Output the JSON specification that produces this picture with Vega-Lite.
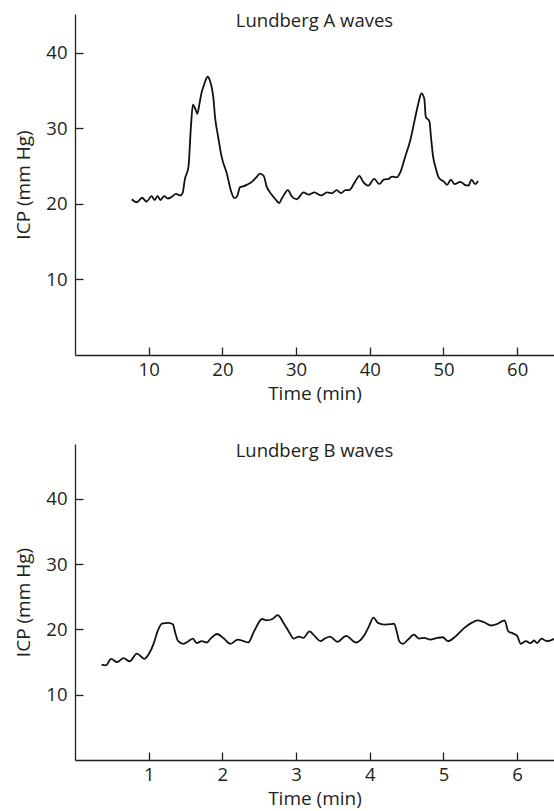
{
  "$schema": "https://vega.github.io/schema/vega-lite/v6.json",
  "padding": {"left": 14, "top": 11, "right": 0, "bottom": 4},
  "spacing": 37,
  "background": "white",
  "config": {
    "view": {"stroke": null},
    "font": "Open Sans",
    "axis": {
      "grid": false,
      "domainColor": "#231f20",
      "domainWidth": 1.3,
      "tickColor": "#231f20",
      "tickWidth": 1.3,
      "tickSize": -8,
      "labelFont": "Open Sans",
      "labelFontSize": 18.5,
      "labelColor": "#231f20",
      "titleFont": "Open Sans",
      "titleFontSize": 19,
      "titleFontWeight": "normal",
      "titleColor": "#231f20"
    },
    "axisX": {"labelPadding": 13, "titlePadding": 6},
    "axisY": {"labelPadding": 16, "titlePadding": 12},
    "title": {"font": "Open Sans", "fontSize": 18.5, "fontWeight": "normal", "color": "#231f20", "anchor": "middle", "frame": "group", "baseline": "alphabetic"}
  },
  "vconcat": [
    {
      "width": 479,
      "height": 341,
      "title": {"text": "Lundberg A waves", "offset": -16},
      "data": {"values": [
        {"t": 7.7, "icp": 20.6}, {"t": 8.4, "icp": 20.2}, {"t": 9.1, "icp": 20.8}, {"t": 9.7, "icp": 20.3},
        {"t": 10.4, "icp": 21.0}, {"t": 10.8, "icp": 20.5}, {"t": 11.2, "icp": 21.0}, {"t": 11.6, "icp": 20.5},
        {"t": 12.1, "icp": 21.0}, {"t": 12.6, "icp": 20.7}, {"t": 13.1, "icp": 20.9}, {"t": 13.7, "icp": 21.3},
        {"t": 14.3, "icp": 21.1}, {"t": 14.6, "icp": 21.4}, {"t": 14.9, "icp": 23.2}, {"t": 15.4, "icp": 24.9},
        {"t": 15.7, "icp": 29.7}, {"t": 16.0, "icp": 33.1}, {"t": 16.3, "icp": 32.6}, {"t": 16.6, "icp": 31.9},
        {"t": 16.9, "icp": 33.3}, {"t": 17.2, "icp": 34.8}, {"t": 17.5, "icp": 35.7}, {"t": 18.0, "icp": 36.8},
        {"t": 18.3, "icp": 36.3}, {"t": 18.8, "icp": 33.8}, {"t": 19.0, "icp": 31.5}, {"t": 19.4, "icp": 29.0},
        {"t": 19.9, "icp": 26.2}, {"t": 20.6, "icp": 24.0}, {"t": 21.2, "icp": 21.6}, {"t": 21.6, "icp": 20.75},
        {"t": 22.0, "icp": 21.0}, {"t": 22.4, "icp": 22.2}, {"t": 22.8, "icp": 22.3}, {"t": 23.3, "icp": 22.5},
        {"t": 24.0, "icp": 22.9}, {"t": 24.7, "icp": 23.6}, {"t": 25.1, "icp": 24.0}, {"t": 25.6, "icp": 23.7},
        {"t": 26.0, "icp": 22.3}, {"t": 26.7, "icp": 21.2}, {"t": 27.2, "icp": 20.6}, {"t": 27.7, "icp": 20.1},
        {"t": 28.1, "icp": 20.75}, {"t": 28.9, "icp": 21.8}, {"t": 29.4, "icp": 21.0}, {"t": 30.1, "icp": 20.6},
        {"t": 31.0, "icp": 21.5}, {"t": 31.7, "icp": 21.2}, {"t": 32.5, "icp": 21.5}, {"t": 33.4, "icp": 21.1},
        {"t": 34.2, "icp": 21.5}, {"t": 34.9, "icp": 21.4}, {"t": 35.5, "icp": 21.8}, {"t": 36.1, "icp": 21.4},
        {"t": 36.7, "icp": 21.8}, {"t": 37.2, "icp": 21.8}, {"t": 38.0, "icp": 22.9}, {"t": 38.6, "icp": 23.7},
        {"t": 39.1, "icp": 22.9}, {"t": 39.8, "icp": 22.4}, {"t": 40.6, "icp": 23.3}, {"t": 41.3, "icp": 22.6},
        {"t": 41.9, "icp": 23.2}, {"t": 42.6, "icp": 23.3}, {"t": 43.0, "icp": 23.6}, {"t": 43.6, "icp": 23.5},
        {"t": 44.2, "icp": 24.3}, {"t": 44.8, "icp": 26.2}, {"t": 45.5, "icp": 28.4}, {"t": 46.1, "icp": 31.1},
        {"t": 46.6, "icp": 33.3}, {"t": 47.0, "icp": 34.6}, {"t": 47.4, "icp": 33.9}, {"t": 47.6, "icp": 31.5},
        {"t": 48.1, "icp": 30.9}, {"t": 48.3, "icp": 28.9}, {"t": 48.6, "icp": 26.2}, {"t": 48.9, "icp": 24.9},
        {"t": 49.4, "icp": 23.4}, {"t": 50.1, "icp": 22.9}, {"t": 50.5, "icp": 22.5}, {"t": 51.0, "icp": 23.2},
        {"t": 51.5, "icp": 22.6}, {"t": 52.3, "icp": 22.9}, {"t": 52.9, "icp": 22.5}, {"t": 53.4, "icp": 22.4},
        {"t": 53.8, "icp": 23.2}, {"t": 54.3, "icp": 22.6}, {"t": 54.7, "icp": 23.0}
      ]},
      "mark": {"type": "line", "color": "#111111", "strokeWidth": 1.8, "interpolate": "monotone", "clip": true},
      "encoding": {
        "x": {"field": "t", "type": "quantitative", "scale": {"domain": [0, 65], "nice": false, "zero": false},
              "axis": {"values": [10, 20, 30, 40, 50, 60], "title": "Time (min)"}},
        "y": {"field": "icp", "type": "quantitative", "scale": {"domain": [0, 45.1], "nice": false},
              "axis": {"values": [10, 20, 30, 40], "title": "ICP (mm Hg)"}}
      }
    },
    {
      "width": 479,
      "height": 316,
      "title": {"text": "Lundberg B waves", "offset": -16},
      "data": {"values": [
        {"t": 0.36, "icp": 14.6}, {"t": 0.42, "icp": 14.5}, {"t": 0.49, "icp": 15.5}, {"t": 0.57, "icp": 15.0},
        {"t": 0.66, "icp": 15.6}, {"t": 0.74, "icp": 15.1}, {"t": 0.84, "icp": 16.3}, {"t": 0.94, "icp": 15.5},
        {"t": 1.01, "icp": 16.4}, {"t": 1.07, "icp": 17.9}, {"t": 1.12, "icp": 19.7}, {"t": 1.18, "icp": 20.9},
        {"t": 1.27, "icp": 21.0}, {"t": 1.33, "icp": 20.75}, {"t": 1.36, "icp": 19.5}, {"t": 1.40, "icp": 18.2},
        {"t": 1.47, "icp": 17.8}, {"t": 1.54, "icp": 18.2}, {"t": 1.60, "icp": 18.6}, {"t": 1.65, "icp": 17.9},
        {"t": 1.72, "icp": 18.2}, {"t": 1.79, "icp": 18.0}, {"t": 1.84, "icp": 18.6}, {"t": 1.93, "icp": 19.3},
        {"t": 2.02, "icp": 18.6}, {"t": 2.11, "icp": 17.8}, {"t": 2.21, "icp": 18.45}, {"t": 2.29, "icp": 18.2},
        {"t": 2.35, "icp": 18.0}, {"t": 2.43, "icp": 19.7}, {"t": 2.54, "icp": 21.6}, {"t": 2.60, "icp": 21.4},
        {"t": 2.68, "icp": 21.6}, {"t": 2.75, "icp": 22.2}, {"t": 2.83, "icp": 21.0}, {"t": 2.90, "icp": 19.7},
        {"t": 2.97, "icp": 18.6}, {"t": 3.04, "icp": 18.9}, {"t": 3.10, "icp": 18.7}, {"t": 3.18, "icp": 19.7},
        {"t": 3.26, "icp": 18.9}, {"t": 3.33, "icp": 18.2}, {"t": 3.39, "icp": 18.6}, {"t": 3.46, "icp": 18.9},
        {"t": 3.56, "icp": 18.1}, {"t": 3.68, "icp": 19.0}, {"t": 3.81, "icp": 18.0}, {"t": 3.93, "icp": 19.2},
        {"t": 3.99, "icp": 20.5}, {"t": 4.05, "icp": 21.8}, {"t": 4.11, "icp": 21.0}, {"t": 4.20, "icp": 20.75},
        {"t": 4.29, "icp": 20.8}, {"t": 4.33, "icp": 20.9}, {"t": 4.37, "icp": 19.5}, {"t": 4.40, "icp": 18.2},
        {"t": 4.45, "icp": 17.8}, {"t": 4.52, "icp": 18.45}, {"t": 4.60, "icp": 19.2}, {"t": 4.67, "icp": 18.6},
        {"t": 4.74, "icp": 18.7}, {"t": 4.82, "icp": 18.45}, {"t": 4.92, "icp": 18.7}, {"t": 4.99, "icp": 18.8},
        {"t": 5.06, "icp": 18.2}, {"t": 5.17, "icp": 19.0}, {"t": 5.28, "icp": 20.2}, {"t": 5.38, "icp": 21.0},
        {"t": 5.46, "icp": 21.4}, {"t": 5.55, "icp": 21.1}, {"t": 5.65, "icp": 20.6}, {"t": 5.74, "icp": 20.9},
        {"t": 5.83, "icp": 21.4}, {"t": 5.88, "icp": 19.7}, {"t": 5.94, "icp": 19.4}, {"t": 6.00, "icp": 19.0},
        {"t": 6.05, "icp": 17.8}, {"t": 6.12, "icp": 18.2}, {"t": 6.18, "icp": 17.9}, {"t": 6.23, "icp": 18.3},
        {"t": 6.27, "icp": 17.9}, {"t": 6.33, "icp": 18.6}, {"t": 6.40, "icp": 18.2}, {"t": 6.51, "icp": 18.6}
      ]},
      "mark": {"type": "line", "color": "#111111", "strokeWidth": 1.8, "interpolate": "monotone", "clip": true},
      "encoding": {
        "x": {"field": "t", "type": "quantitative", "scale": {"domain": [0, 6.5], "nice": false, "zero": false},
              "axis": {"values": [1, 2, 3, 4, 5, 6], "title": "Time (min)"}},
        "y": {"field": "icp", "type": "quantitative", "scale": {"domain": [0, 48.4], "nice": false},
              "axis": {"values": [10, 20, 30, 40], "title": "ICP (mm Hg)"}}
      }
    }
  ]
}
